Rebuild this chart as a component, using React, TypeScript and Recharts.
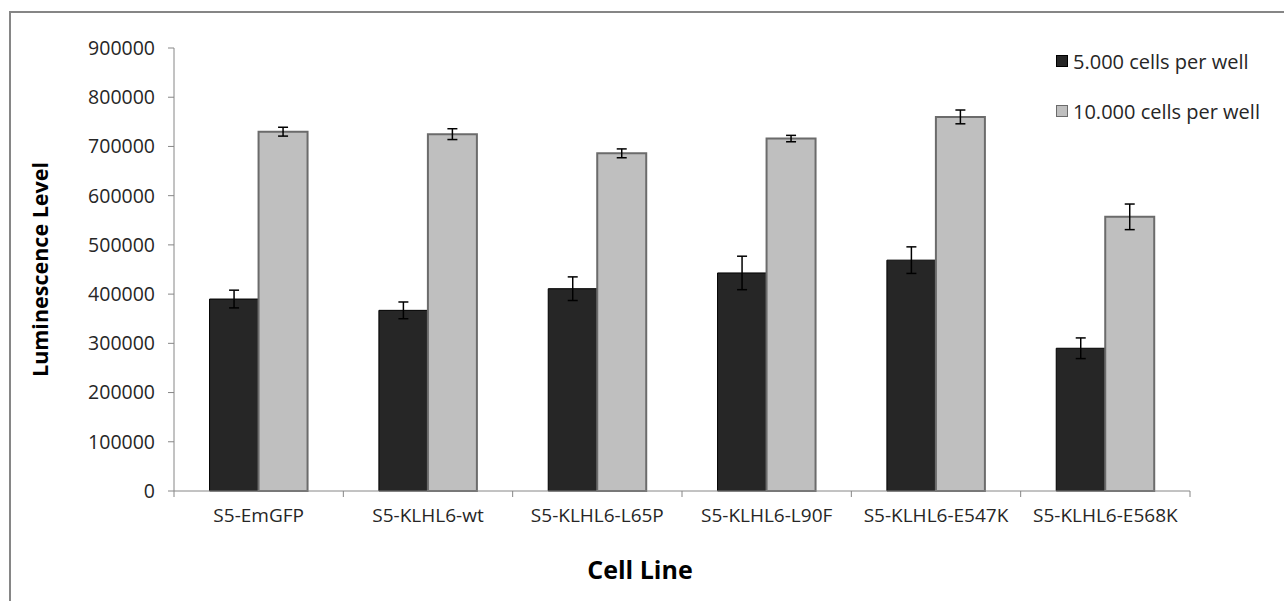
import React from "react";
import { BarChart, Bar, XAxis, YAxis, ErrorBar, Legend, Label } from "recharts";

const cellLines = [
  "S5-EmGFP",
  "S5-KLHL6-wt",
  "S5-KLHL6-L65P",
  "S5-KLHL6-L90F",
  "S5-KLHL6-E547K",
  "S5-KLHL6-E568K",
];
const cells5000 = [390000, 367000, 411000, 443000, 469000, 290000];
const cells5000Err = [18000, 17000, 24000, 34000, 27000, 21000];
const cells10000 = [730000, 725000, 686000, 716000, 760000, 557000];
const cells10000Err = [9000, 11000, 9000, 6500, 14000, 26000];
const yTicks = [0, 100000, 200000, 300000, 400000, 500000, 600000, 700000, 800000, 900000];

const W = 1284;
const H = 601;
const MARGIN = { top: 48, right: 94, bottom: 80, left: 0 };
const Y_AXIS_W = 174;
const X_AXIS_H = 30;
const TICK_SIZE = 6;
const TICK_MARGIN = 12;
const FONT = "'Open Sans', 'Noto Sans', sans-serif";
const AXIS_GREY = "#868686";
const TEXT = "#262626";

const data = cellLines.map((name, i) => ({
  name,
  low: cells5000[i],
  lowErr: cells5000Err[i],
  high: cells10000[i],
  highErr: cells10000Err[i],
}));

const seriesOrder = ["low", "high"];
const swatches: Record<string, { fill: string; stroke: string }> = {
  low: { fill: "#262626", stroke: "#000000" },
  high: { fill: "#bfbfbf", stroke: "#6b6b6b" },
};

function CategoryTick(props: any) {
  const { x, y, payload, index, visibleTicksCount } = props;
  const fallback = (W - MARGIN.left - MARGIN.right - Y_AXIS_W) / cellLines.length / 2;
  const half = typeof payload?.offset === "number" && payload.offset > 0 ? payload.offset : fallback;
  const axisY = y - TICK_SIZE - TICK_MARGIN;
  return (
    <g>
      <line x1={x - half} x2={x - half} y1={axisY} y2={axisY + TICK_SIZE} stroke={AXIS_GREY} />
      {index === visibleTicksCount - 1 && (
        <line x1={x + half} x2={x + half} y1={axisY} y2={axisY + TICK_SIZE} stroke={AXIS_GREY} />
      )}
      <text x={x} y={y} dy="0.71em" textAnchor="middle" fill={TEXT} fontSize={19} fontFamily={FONT}>
        {payload.value}
      </text>
    </g>
  );
}

function LegendBox(props: any) {
  const items = [...(props.payload || [])].sort(
    (a: any, b: any) => seriesOrder.indexOf(a.dataKey) - seriesOrder.indexOf(b.dataKey)
  );
  return (
    <div style={{ fontFamily: FONT, fontSize: 20, color: TEXT }}>
      {items.map((entry: any) => {
        const sw = swatches[entry.dataKey] || { fill: entry.color, stroke: "#000" };
        return (
          <div key={entry.value} style={{ display: "flex", alignItems: "center", height: 28, marginBottom: 22 }}>
            <span
              style={{
                display: "inline-block",
                width: 10,
                height: 10,
                background: sw.fill,
                border: `1px solid ${sw.stroke}`,
                marginRight: 5,
              }}
            />
            <span>{entry.value}</span>
          </div>
        );
      })}
    </div>
  );
}

export default function App() {
  return (
    <div
      style={{
        position: "fixed",
        left: 0,
        top: 0,
        width: W,
        height: H,
        overflow: "hidden",
        background: "#fff",
      }}
    >
      <div
        style={{
          position: "absolute",
          left: 9,
          top: 11,
          width: 1400,
          height: 800,
          border: `2px solid ${AXIS_GREY}`,
        }}
      />
      <div style={{ position: "absolute", left: 0, top: 0 }}>
        <BarChart width={W} height={H} data={data} margin={MARGIN} barCategoryGap="21%" barGap={0}>
          <XAxis
            dataKey="name"
            height={X_AXIS_H}
            axisLine={{ stroke: AXIS_GREY }}
            tickLine={false}
            tickSize={TICK_SIZE}
            tickMargin={TICK_MARGIN}
            interval={0}
            tick={<CategoryTick />}
          >
            <Label
              content={() => (
                <text x={640} y={579} textAnchor="middle" fontFamily={FONT} fontWeight={700} fontSize={25} fill="#000">
                  Cell Line
                </text>
              )}
            />
          </XAxis>
          <YAxis
            width={Y_AXIS_W}
            domain={[0, 900000]}
            ticks={yTicks}
            interval={0}
            axisLine={{ stroke: AXIS_GREY }}
            tickLine={{ stroke: AXIS_GREY }}
            tickSize={TICK_SIZE}
            tickMargin={13}
            tick={{ fill: TEXT, fontSize: 19.5, fontFamily: FONT }}
          >
            <Label
              content={(p: any) => {
                const vb = p.viewBox || { y: MARGIN.top, height: 443 };
                const cy = vb.y + vb.height / 2;
                return (
                  <text
                    x={48}
                    y={cy}
                    transform={`rotate(-90, 48, ${cy})`}
                    textAnchor="middle"
                    fontFamily={FONT}
                    fontWeight={700}
                    fontSize={21.5}
                    fill="#000"
                  >
                    Luminescence Level
                  </text>
                );
              }}
            />
          </YAxis>
          <Legend
            layout="vertical"
            align="center"
            verticalAlign="middle"
            content={<LegendBox />}
            wrapperStyle={{ position: "absolute", top: 47, left: 1056, width: 220 }}
          />
          <Bar
            dataKey="low"
            name="5.000 cells per well"
            fill={swatches.low.fill}
            stroke={swatches.low.stroke}
            strokeWidth={1}
            isAnimationActive={false}
          >
            <ErrorBar dataKey="lowErr" width={5} stroke="#000" strokeWidth={1.5} isAnimationActive={false} />
          </Bar>
          <Bar
            dataKey="high"
            name="10.000 cells per well"
            fill={swatches.high.fill}
            stroke={swatches.high.stroke}
            strokeWidth={2}
            isAnimationActive={false}
          >
            <ErrorBar dataKey="highErr" width={5} stroke="#000" strokeWidth={1.5} isAnimationActive={false} />
          </Bar>
        </BarChart>
      </div>
    </div>
  );
}
